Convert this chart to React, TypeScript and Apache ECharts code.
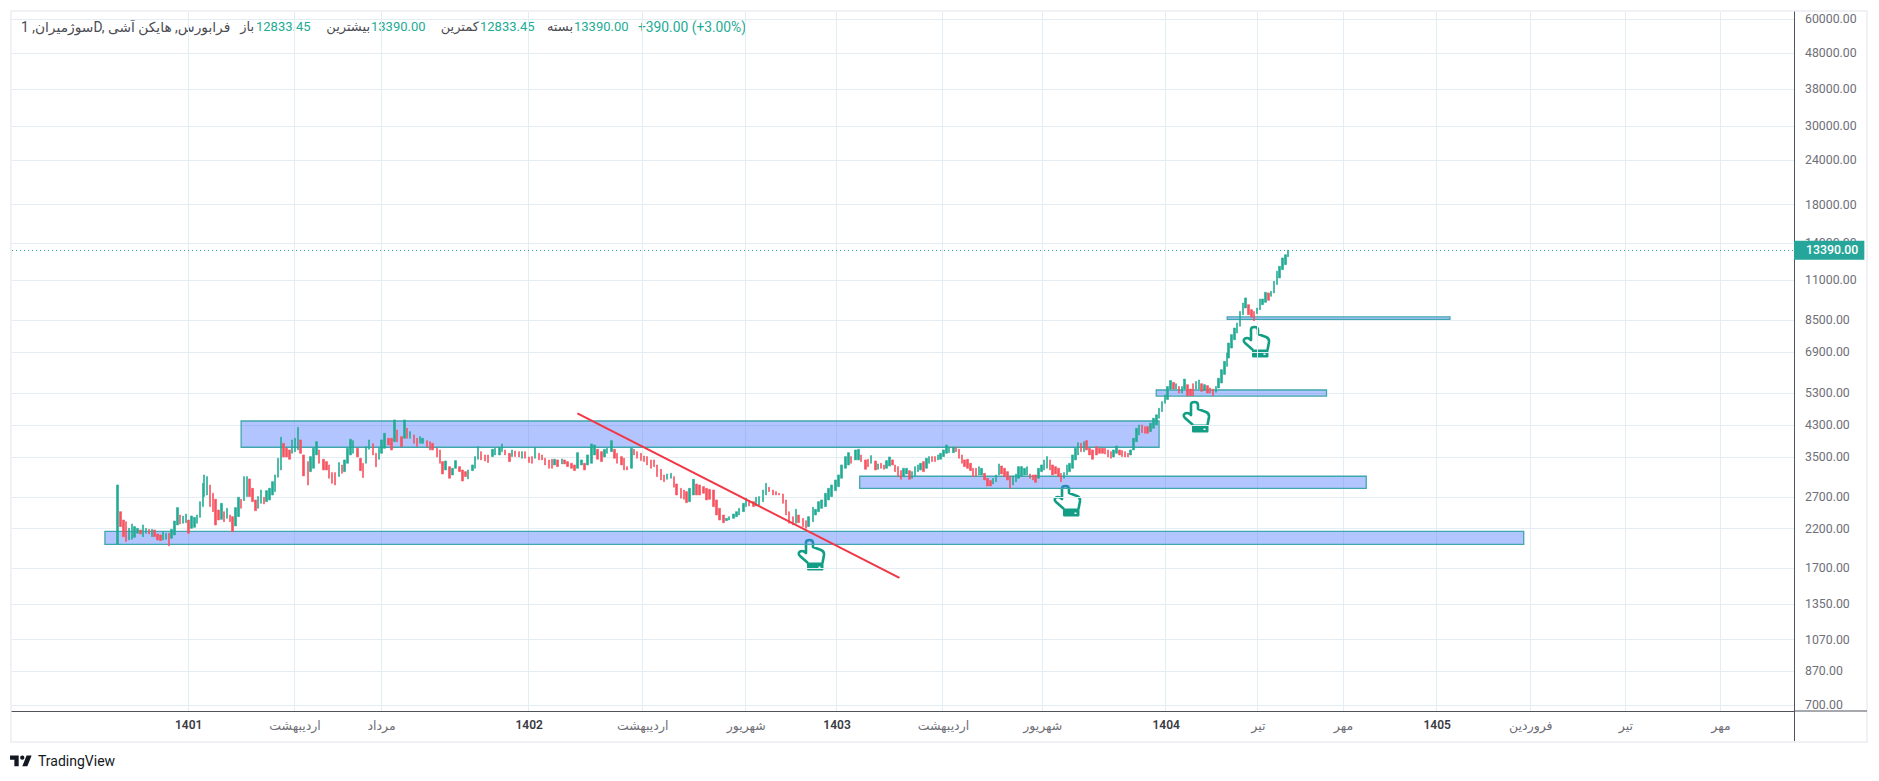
import React, { useEffect, useRef } from "react";
import * as echarts from "echarts";

// price axis
const yTicks = [60000, 48000, 38000, 30000, 24000, 18000, 14000, 11000, 8500, 6900, 5300, 4300, 3500, 2700, 2200, 1700, 1350, 1070, 870, 700];
const yMin = 673.3;
const yMax = 62788;
const lastPrice = 13390;

// time axis: slot (trading day index) -> label
const slotCount = 1256;
const timeSlots = [124, 199, 260, 364, 444, 517, 581, 656, 726, 813, 878, 938, 1004, 1070, 1137, 1204];
const timeLabels = ["1401", "اردیبهشت", "مرداد", "1402", "اردیبهشت", "شهریور", "1403", "اردیبهشت", "شهریور", "1404", "تیر", "مهر", "1405", "فروردین", "تیر", "مهر"];

// bars: [low, high, up]
const barsA = [
[1985,2918,1],[2227,2454,0],[2087,2325,0],[2021,2300,0],[2043,2203,1],[2052,2266,1],[2078,2227,1],[2133,2203,1],[2124,2179,0],[2087,2251,1],
[2133,2203,1],[2124,2189,0],[2087,2189,1],[2087,2179,0],[2043,2124,0],[2034,2110,0],[2043,2156,1],[2052,2133,1],[1968,2133,0],[2065,2189,1],
[2110,2310,1],[2251,2520,1],[2266,2402,0],[2276,2386,1],[2285,2417,1],[2133,2325,0],[2203,2386,1],[2217,2365,1],[2276,2402,1],[2365,2619,1],
[2536,2950,1],[2706,3114,1],[2735,3081,1],[2536,2918,0],[2454,2765,0],[2251,2660,0],[2325,2481,0],[2335,2591,1],[2300,2454,0],[2350,2508,1],
[2300,2402,0],[2156,2376,0],[2237,2520,1],[2376,2695,1],[2508,2660,0],[2636,3081,1],[2706,3081,1],[2706,3035,0],[2619,2856,0],[2470,2648,0],
[2508,2706,1],[2591,2825,1],[2580,2695,0],[2619,2813,1],[2648,2856,1],[2735,2982,1],[2795,3114,1],[3068,3470,1],[3217,3977,1],[3500,3824,0],
[3500,3703,0],[3448,3663,0],[3584,3908,1],[3623,3951,1],[3663,4243,1],[3584,3908,0],[3095,3546,0],[2918,3396,0],[3182,3508,1],[3252,3703,1],
[3546,3866,1],[3359,3663,0],[3217,3448,0],[3217,3396,0],[3048,3323,0],[2950,3162,0],[2918,3162,0],[3081,3374,1],[3148,3323,0],[3182,3433,1],
[3359,3703,1],[3546,3925,1],[3584,3891,1],[3500,3703,0],[3203,3470,0],[3061,3359,0],[3359,3743,1],[3679,3908,1],[3546,3816,0],[3287,3584,0],
[3448,3703,1],[3584,3908,1],[3703,4081,1],[3783,3951,0],[3663,3951,0],[3866,4450,1],[3866,4170,0],[3743,3994,0],[3951,4450,1],[3951,4215,0],
[3951,4125,1],[3824,4037,0],[3743,3951,0],[3824,3994,1],[3824,3951,1],[3743,3891,0],[3663,3866,0],[3663,3824,0],[3500,3703,0],[3359,3663,0],
[3134,3396,0],[3217,3410,1],[3048,3287,0],[3114,3252,1],[3252,3418,1],[3182,3287,0],[2995,3217,0],[3081,3182,0],[3035,3217,1],[3203,3323,1],
[3252,3508,1],[3448,3743,1],[3433,3623,0],[3410,3546,0],[3374,3546,0],
];
const barsB = [
[3508,3679,1],[3546,3703,1],[3546,3727,1],[3623,3808,1],[3546,3663,0],[3396,3584,0],[3508,3663,1],[3508,3639,0],[3500,3623,0],[3470,3623,1],
[3470,3623,0],[3374,3500,0],[3359,3508,0],[3470,3719,1],[3433,3584,0],[3433,3546,0],[3323,3470,0],[3252,3433,0],[3252,3448,0],[3323,3448,1],
[3287,3433,0],[3345,3455,1],[3345,3433,0],[3287,3396,0],[3252,3359,0],[3203,3323,0],[3252,3599,1],[3323,3433,1],[3217,3359,0],[3323,3546,1],
[3359,3808,1],[3546,3783,1],[3448,3679,0],[3396,3623,0],[3500,3679,1],[3584,3703,1],[3623,3891,1],[3470,3679,0],[3359,3584,0],[3323,3508,0],
[3217,3470,0],[3217,3287,0],[3252,3703,1],[3546,3679,0],[3470,3623,0],[3418,3584,0],[3396,3523,0],[3323,3508,0],[3252,3433,0],[3287,3433,0],
[3081,3323,0],[3015,3231,0],[2982,3114,0],[3028,3134,1],[3048,3148,1],[2875,3081,0],[2735,2937,0],[2677,2856,0],[2660,2825,0],[2602,2795,0],
[2619,2856,1],[2735,3028,1],[2735,2937,0],[2735,2918,0],[2765,2887,0],[2648,2856,0],[2660,2837,0],[2536,2825,0],[2402,2648,0],[2325,2508,0],
[2285,2402,0],[2315,2350,1],[2325,2376,1],[2350,2417,1],[2376,2454,1],[2402,2508,1],[2454,2591,1],[2536,2677,1],[2547,2636,0],[2536,2619,0],
[2547,2695,1],[2563,2706,1],[2619,2825,1],[2735,2950,1],[2795,2875,0],[2735,2825,0],[2735,2795,0],[2735,2765,0],[2591,2753,0],[2402,2648,0],
[2276,2454,0],[2251,2376,0],[2276,2492,1],[2285,2402,0],[2227,2350,0],[2203,2315,0],[2227,2376,1],[2300,2525,1],[2402,2492,1],[2454,2619,1],
[2508,2648,1],[2536,2765,1],[2648,2856,1],[2706,2918,1],[2813,3015,1],[2887,3114,1],[3048,3323,1],[3252,3508,1],[3323,3599,1],[3359,3508,0],
[3433,3663,1],[3433,3679,1],[3396,3546,0],[3231,3433,0],[3287,3448,0],[3359,3531,1],[3217,3410,0],[3231,3345,1],
];
const barsC = [
[3252,3359,0],[3231,3323,0],[3252,3418,1],[3301,3500,1],[3323,3433,0],[3182,3323,0],[3081,3287,0],[3028,3203,0],[3081,3252,1],[3134,3252,1],
[3028,3203,0],[3048,3182,1],[3095,3287,1],[3182,3323,1],[3217,3359,1],[3182,3396,0],[3252,3470,1],[3359,3508,1],[3396,3508,0],[3396,3508,0],
[3433,3546,1],[3448,3584,1],[3508,3663,1],[3584,3783,1],[3599,3727,1],[3599,3727,1],[3623,3727,0],[3470,3679,0],[3359,3546,0],[3287,3433,0],
[3252,3448,0],[3203,3359,0],[3081,3252,0],[3095,3252,0],[3114,3287,1],[3114,3252,1],[3015,3148,0],[2900,3048,0],[2900,3002,0],[2937,3048,1],
[2982,3114,1],[3114,3345,1],[3134,3301,0],[3081,3252,0],[3015,3182,0],[2856,3081,0],[2918,3095,1],[2982,3134,1],[3048,3287,1],[3095,3287,1],
[3114,3252,1],[3114,3287,1],[3048,3134,0],[3015,3114,0],[2969,3114,0],[3048,3252,1],[3182,3323,1],[3217,3433,1],[3252,3508,1],[3217,3433,0],
[3114,3323,0],[3134,3287,0],[3081,3252,0],[2982,3148,0],[3048,3162,1],[3114,3323,1],[3182,3359,1],[3252,3546,1],[3433,3703,1],[3546,3841,1],
[3623,3824,0],[3623,3866,1],[3663,3891,0],[3546,3703,0],[3448,3663,0],[3546,3743,0],[3584,3703,0],[3584,3703,0],[3568,3703,0],[3500,3663,0],
[3470,3623,0],[3500,3663,1],[3584,3759,1],[3546,3663,0],[3508,3647,0],[3500,3623,0],[3500,3584,0],[3546,3663,1],[3663,3951,1],[3866,4215,1],
[4037,4308,1],[4098,4308,0],[4081,4261,0],[4081,4261,0],[4125,4355,1],[4215,4502,1],[4308,4600,1],[4498,4800,1],[4697,5012,1],[4958,5233,1],
];
const barsD = [
[5080,5530,1],[5440,5745,1],[5440,5680,0],[5440,5630,1],[5300,5530,0],[5300,5530,1],[5440,5800,1],[5210,5595,0],[5210,5440,0],[5210,5630,0],
[5440,5710,1],[5440,5770,1],[5360,5630,0],[5390,5595,1],[5300,5560,0],[5300,5475,0],[5210,5440,0],[5325,5530,1],[5475,5835,1],[5655,6166,1],
[5980,6510,1],[6300,6880,1],[6650,7331,1],[7095,7740,1],[7490,8080,1],[7820,8347,1],[8170,9000,1],[8810,9504,1],[9200,9820,1],[8810,9400,0],
[8680,9102,0],[8470,9000,0],[8870,9200,1],[9102,9755,1],[9400,9755,1],[9545,10190,1],[9670,10145,0],[9925,10250,1],[10145,10940,1],[10710,11680,1],
[11180,12060,1],[11800,12730,1],[12190,13000,1],[12833.45,13390,1],
];
// which trading-day slot known bars fall on: [bar number, slot]
const barAnchors = [[0, 74], [20, 114], [40, 153], [64, 201], [95, 269], [124, 335], [125, 338], [242, 610], [243, 612], [342, 812], [343, 814], [386, 899]];

// zones: [firstSlot, lastSlot, lowPrice, highPrice]
const zones = [
  [65, 1065, 1986, 2160],
  [161, 808, 3727, 4420],
  [597, 954, 2856, 3088],
  [806, 926, 5197, 5405],
  [856, 1013, 8550, 8680],
];
const trendSlots = [398, 625];
const trendPrices = [4646, 1596];

const UP = "#22ab94";
const DOWN = "#f7525f";
const ARABIC_FONT = "Roboto, 'Noto Sans', 'DejaVu Sans', sans-serif";

const handOutline = "M10 24 L2 17 Q-0.5 14 2 12.5 Q5 11 8 14 L8 3.5 Q8 1 11.5 1 Q15 1 15 4 L15 8 L23 11 Q26.5 12.5 26 16 L24.5 24";
const tvLogo = "M14 6H2v6h6v9h6V6Zm12 15h-7l6-15h7l-6 15Zm-7-9a3 3 0 1 0 0-6 3 3 0 0 0 0 6Z";
echarts.graphic.registerShape("handOutline", echarts.graphic.extendPath(handOutline, {}));
echarts.graphic.registerShape("tvLogo", echarts.graphic.extendPath(tvLogo, {}));

const handSpots = [[798, 539], [1054, 485], [1183, 401], [1243, 326]];

function hand(x: number, y: number) {
  return {
    type: "group",
    x,
    y,
    children: [
      { type: "handOutline", x: 0, y: 0, style: { fill: "none", stroke: "#129e85", lineWidth: 2.6, lineJoin: "round" } },
      { type: "rect", shape: { x: 9, y: 23.5, width: 16.5, height: 8, r: 1.2 }, style: { fill: "#129e85" } },
      { type: "rect", shape: { x: 20.5, y: 27.5, width: 2, height: 1.5 }, style: { fill: "#ffffff" } },
    ],
  };
}

const headerDark = "#4b4b52";
// text, x, colour, text-align, font size
const headerPieces: [string, number, string, string, number][] = [
  ["سوژمیران, 1D, فرابورس, هایکن آشی", 21, headerDark, "left", 13.8],
  ["باز", 254, headerDark, "right", 13],
  ["12833.45", 256, UP, "left", 13],
  ["بیشترین", 370, headerDark, "right", 13],
  ["13390.00", 371, UP, "left", 13],
  ["کمترین", 479, headerDark, "right", 13],
  ["12833.45", 480, UP, "left", 13],
  ["بسته", 573, headerDark, "right", 13],
  ["13390.00", 574, UP, "left", 13],
  ["+390.00 (+3.00%)", 638, UP, "left", 13.8],
];

function slotOfBar(i: number) {
  for (let a = 1; a < barAnchors.length; a++) {
    const [i0, s0] = barAnchors[a - 1];
    const [i1, s1] = barAnchors[a];
    if (i <= i1) return Math.round(s0 + ((i - i0) * (s1 - s0)) / (i1 - i0));
  }
  return barAnchors[barAnchors.length - 1][1];
}

export default function App() {
  const ref = useRef<HTMLDivElement>(null);
  useEffect(() => {
    const chart = echarts.init(ref.current!, undefined, { renderer: "svg" });
    const categories = Array.from({ length: slotCount }, () => "");
    timeSlots.forEach((s, i) => (categories[s] = timeLabels[i]));
    const candleData = [...barsA, ...barsB, ...barsC, ...barsD].map(([low, high, up], i) => {
      const slot = slotOfBar(i);
      return up ? [slot, low, high, low, high] : [slot, high, low, low, high];
    });
    const isLabelled = (_: number, v: string) => v !== "";
    chart.setOption({
      animation: false,
      backgroundColor: "#ffffff",
      grid: { left: 12, top: 12, width: 1782, height: 699, containLabel: false },
      xAxis: {
        type: "category",
        data: categories,
        boundaryGap: true,
        axisLine: { lineStyle: { color: "#50535e", width: 1 } },
        axisTick: { show: false },
        splitLine: { show: true, interval: isLabelled, lineStyle: { color: "#e3edf4", width: 1 } },
        axisLabel: {
          interval: isLabelled,
          margin: 8,
          formatter: (v: string) => (/^\d/.test(v) ? `{y|${v}}` : `{m|${v}}`),
          rich: {
            y: { fontFamily: "Roboto", fontWeight: 600, fontSize: 12, color: "#3a3a42" },
            m: { fontFamily: ARABIC_FONT, fontSize: 12.5, color: "#6f6f78" },
          },
        },
      },
      yAxis: {
        type: "log",
        logBase: 10,
        min: yMin,
        max: yMax,
        position: "right",
        axisLine: { show: true, lineStyle: { color: "#50535e", width: 1 } },
        axisTick: { show: false, customValues: yTicks },
        splitLine: { show: true, lineStyle: { color: "#e3edf4", width: 1 } },
        axisLabel: {
          customValues: yTicks,
          margin: 11,
          fontFamily: "Roboto",
          fontSize: 12.3,
          color: "#6f6f78",
          formatter: (v: number) => Number(v).toFixed(2),
        },
      },
      series: [
        {
          type: "candlestick",
          data: candleData,
          encode: { x: 0, y: [1, 2, 3, 4] },
          barWidth: 2,
          large: false,
          progressive: 0,
          itemStyle: { color: UP, color0: DOWN, borderColor: UP, borderColor0: DOWN, borderWidth: 0.6 },
          markLine: {
            silent: true,
            symbol: "none",
            animation: false,
            data: [{ yAxis: lastPrice }],
            lineStyle: { color: UP, type: [1, 3], width: 1 },
            label: {
              position: "end",
              distance: 0,
              formatter: () => lastPrice.toFixed(2),
              backgroundColor: "#26a69a",
              color: "#ffffff",
              fontFamily: "Roboto",
              fontSize: 12.3,
              fontWeight: 500,
              padding: [4, 6, 3, 12],
            },
          },
        },
        {
          type: "line",
          data: trendSlots.map((s, i) => [s, trendPrices[i]]),
          symbol: "none",
          z: 5,
          lineStyle: { color: "#f23645", width: 2 },
          markArea: {
            silent: true,
            animation: false,
            itemStyle: { color: "rgba(66,110,255,0.4)", borderColor: "#3fa7ae", borderWidth: 1.3 },
            data: zones.map(([a, b, lo, hi]) => [
              { xAxis: a, yAxis: hi },
              { xAxis: b, yAxis: lo },
            ]),
          },
        },
      ],
      graphic: {
        elements: [
          { type: "rect", z: 0, shape: { x: 11, y: 11, width: 1856, height: 731 }, style: { fill: "none", stroke: "#f0f0f5", lineWidth: 2 } },
          { type: "line", shape: { x1: 1794, y1: 711, x2: 1867, y2: 711 }, style: { stroke: "#50535e", lineWidth: 1 } },
          { type: "line", shape: { x1: 1794.5, y1: 711, x2: 1794.5, y2: 741 }, style: { stroke: "#50535e", lineWidth: 1 } },
          ...headerPieces.map(([text, x, fill, align, size]) => ({
            type: "text",
            x,
            y: 26.5,
            style: { text, fill, align, font: `${size}px ${ARABIC_FONT}`, verticalAlign: "middle" },
          })),
          ...handSpots.map(([x, y]) => hand(x, y)),
          { type: "tvLogo", x: 8.6, y: 751.2, scaleX: 0.72, scaleY: 0.72, style: { fill: "#131722" } },
          {
            type: "text",
            x: 38,
            y: 761,
            style: { text: "TradingView", fill: "#131722", font: "14px Roboto, sans-serif", verticalAlign: "middle" },
          },
        ],
      },
    });
    return () => chart.dispose();
  }, []);
  return <div ref={ref} style={{ position: "absolute", left: 0, top: 0, width: 1879, height: 781 }} />;
}
